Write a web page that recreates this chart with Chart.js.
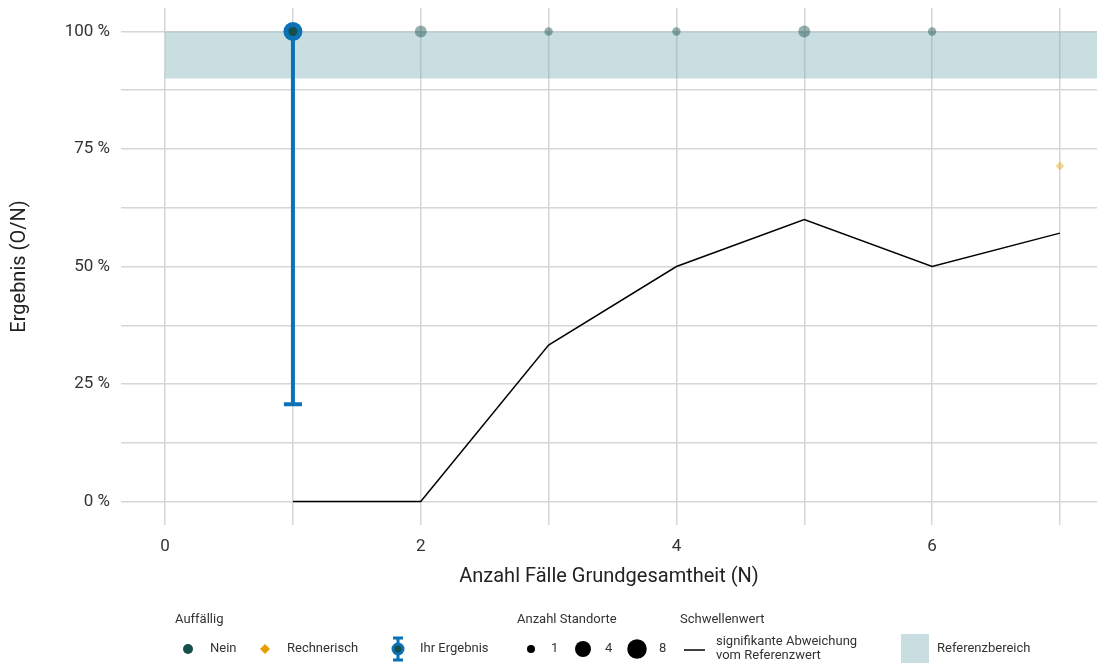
<!DOCTYPE html>
<html lang="de">
<head>
<meta charset="utf-8">
<title>Ergebnis nach Anzahl Fälle</title>
<script src="https://cdn.jsdelivr.net/npm/chart.js@4.4.1/dist/chart.umd.min.js"></script>
<style>
  html, body { margin: 0; padding: 0; background: #fff; }
  #wrap { width: 1098px; height: 664px; position: relative; }
</style>
</head>
<body>
<div id="wrap"><canvas id="chart" width="1098" height="664"></canvas></div>
<script>
// --- data ---
var nFaelle = [1, 2, 3, 4, 5, 6, 7];
var schwellenwert = [0, 0, 33.3, 50, 60, 50, 57.1];

// Standorte, Auffaellig = Nein
var neinX = [2, 3, 4, 5, 6];
var neinY = [100, 100, 100, 100, 100];
var neinStandorte = [2, 1, 1, 2, 1];

// Standorte, Auffaellig = Rechnerisch
var rechnerischX = [7];
var rechnerischY = [71.4];

// Ihr Ergebnis with confidence interval
var ihrX = [1];
var ihrY = [100];
var ihrLower = [20.7];
var ihrUpper = [100];

// Referenzbereich
var refLower = 90;
var refUpper = 100;

var xMin = -0.345, xMax = 7.29;
var yMin = -5, yMax = 105;
var xTicks = [0, 1, 2, 3, 4, 5, 6, 7];
var xLabelled = [0, 2, 4, 6];
var yTicks = [0, 12.5, 25, 37.5, 50, 62.5, 75, 87.5, 100];
var yLabelled = [0, 25, 50, 75, 100];

// --- styling ---
var FONT = 'Roboto, "Noto Sans", sans-serif';
var TEAL = '#16504b';
var TEAL_A = 'rgba(22,80,75,0.45)';
var ORANGE = '#e69f00';
var ORANGE_A = 'rgba(230,159,0,0.4)';
var BLUE = '#0b72b8';
var BAND = 'rgba(120,172,180,0.4)';
var BAND_SOLID = '#c9dee1';
var GRID = '#d6d6d6';

function siteRadius(n) { return 4.2 * Math.sqrt(n); }

function pts(xs, ys) {
  return xs.map(function (x, i) { return { x: x, y: ys[i] }; });
}

// error bar for "Ihr Ergebnis", drawn just before its point
var errorBarPlugin = {
  id: 'ihrErrorBar',
  beforeDatasetDraw: function (chart, args) {
    if (args.meta._dataset.label !== 'Ihr Ergebnis') return;
    var ctx = chart.ctx, xs = chart.scales.x, ys = chart.scales.y;
    ctx.save();
    ctx.strokeStyle = BLUE;
    ctx.lineWidth = 4;
    ihrX.forEach(function (x, i) {
      var px = xs.getPixelForValue(x);
      var lo = ys.getPixelForValue(ihrLower[i]);
      var hi = ys.getPixelForValue(ihrUpper[i]);
      ctx.beginPath();
      ctx.moveTo(px, hi);
      ctx.lineTo(px, lo);
      ctx.moveTo(px - 9, lo);
      ctx.lineTo(px + 9, lo);
      ctx.moveTo(px - 9, hi);
      ctx.lineTo(px + 9, hi);
      ctx.stroke();
    });
    ctx.restore();
  }
};

// legend below the plot, ggplot style
var legendPlugin = {
  id: 'qiLegend',
  afterDraw: function (chart) {
    var ctx = chart.ctx;
    var rowY = 649, titleY = 620;
    ctx.save();
    ctx.textBaseline = 'middle';
    ctx.textAlign = 'left';
    ctx.fillStyle = '#333';
    ctx.font = '13px ' + FONT;
    ctx.fillText('Auffällig', 175, titleY);
    ctx.fillText('Anzahl Standorte', 517, titleY);
    ctx.fillText('Schwellenwert', 680, titleY);

    // Nein
    ctx.fillStyle = TEAL;
    ctx.beginPath(); ctx.arc(188, rowY, 5, 0, Math.PI * 2); ctx.fill();
    // Rechnerisch
    ctx.fillStyle = ORANGE;
    ctx.beginPath();
    ctx.moveTo(265, rowY - 5); ctx.lineTo(270, rowY); ctx.lineTo(265, rowY + 5); ctx.lineTo(260, rowY);
    ctx.closePath(); ctx.fill();
    // Ihr Ergebnis
    ctx.strokeStyle = BLUE; ctx.lineWidth = 3;
    ctx.beginPath();
    ctx.moveTo(398, 638); ctx.lineTo(398, 660);
    ctx.moveTo(393, 638); ctx.lineTo(403, 638);
    ctx.moveTo(393, 660); ctx.lineTo(403, 660);
    ctx.stroke();
    ctx.fillStyle = BLUE;
    ctx.beginPath(); ctx.arc(398, rowY, 6.5, 0, Math.PI * 2); ctx.fill();
    ctx.fillStyle = TEAL;
    ctx.beginPath(); ctx.arc(398, rowY, 3.5, 0, Math.PI * 2); ctx.fill();

    // sizes
    ctx.fillStyle = '#000';
    [[531, 1], [583, 4], [637, 6]].forEach(function (s) {
      ctx.beginPath(); ctx.arc(s[0], rowY, siteRadius(s[1]) * 0.95, 0, Math.PI * 2); ctx.fill();
    });

    // threshold line
    ctx.strokeStyle = '#000'; ctx.lineWidth = 1.5;
    ctx.beginPath(); ctx.moveTo(684, rowY + 1); ctx.lineTo(705, rowY + 1); ctx.stroke();

    // reference band key
    ctx.fillStyle = BAND_SOLID;
    ctx.fillRect(901, 634, 28, 29);

    ctx.fillStyle = '#333';
    ctx.font = '13px ' + FONT;
    ctx.fillText('Nein', 210, rowY);
    ctx.fillText('Rechnerisch', 287, rowY);
    ctx.fillText('Ihr Ergebnis', 420, rowY);
    ctx.fillText('1', 551, rowY);
    ctx.fillText('4', 605, rowY);
    ctx.fillText('8', 659, rowY);
    ctx.fillText('signifikante Abweichung', 716, 642);
    ctx.fillText('vom Referenzwert', 716, 656);
    ctx.fillText('Referenzbereich', 937, rowY);
    ctx.restore();
  }
};

new Chart(document.getElementById('chart'), {
  type: 'scatter',
  data: {
    datasets: [
      {
        label: 'Ihr Ergebnis',
        data: pts(ihrX, ihrY),
        order: 0,
        pointRadius: 7,
        pointBorderWidth: 5,
        pointBackgroundColor: TEAL,
        pointBorderColor: BLUE,
        pointHoverRadius: 7
      },
      {
        label: 'Rechnerisch',
        data: pts(rechnerischX, rechnerischY),
        order: 1,
        pointStyle: 'rectRot',
        pointRadius: 4.5,
        pointBorderWidth: 0,
        pointBackgroundColor: ORANGE_A
      },
      {
        label: 'Nein',
        data: pts(neinX, neinY),
        order: 2,
        pointRadius: neinStandorte.map(siteRadius),
        pointBorderWidth: 0,
        pointBackgroundColor: TEAL_A
      },
      {
        label: 'Schwellenwert',
        type: 'line',
        data: pts(nFaelle, schwellenwert),
        order: 3,
        borderColor: '#000',
        borderWidth: 1.5,
        pointRadius: 0,
        tension: 0,
        fill: false
      },
      {
        label: 'Referenzbereich oben',
        type: 'line',
        data: [{ x: 0, y: refUpper }, { x: xMax, y: refUpper }],
        order: 4,
        borderWidth: 0,
        pointRadius: 0,
        backgroundColor: BAND,
        fill: '+1'
      },
      {
        label: 'Referenzbereich unten',
        type: 'line',
        data: [{ x: 0, y: refLower }, { x: xMax, y: refLower }],
        order: 5,
        borderWidth: 0,
        pointRadius: 0,
        fill: false
      }
    ]
  },
  options: {
    responsive: false,
    animation: false,
    layout: { autoPadding: false, padding: { top: 8, right: 1, bottom: 71, left: 0 } },
    plugins: {
      legend: { display: false },
      tooltip: { enabled: false }
    },
    scales: {
      x: {
        type: 'linear',
        min: xMin,
        max: xMax,
        afterBuildTicks: function (s) { s.ticks = xTicks.map(function (v) { return { value: v }; }); },
        afterFit: function (s) { s.height = 68; s.paddingLeft = 0; s.paddingRight = 0; },
        grid: { color: GRID, lineWidth: 1.5, drawTicks: false },
        border: { display: false },
        ticks: {
          padding: 12,
          color: '#333',
          font: { family: FONT, size: 17 },
          callback: function (v) { return xLabelled.indexOf(v) >= 0 ? String(v) : ''; }
        },
        title: {
          display: true,
          text: 'Anzahl Fälle Grundgesamtheit (N)',
          color: '#222',
          font: { family: FONT, size: 20 },
          padding: { top: 4, bottom: 4 }
        }
      },
      y: {
        type: 'linear',
        min: yMin,
        max: yMax,
        afterBuildTicks: function (s) { s.ticks = yTicks.map(function (v) { return { value: v }; }); },
        afterFit: function (s) { s.width = 121; s.paddingTop = 0; s.paddingBottom = 0; },
        grid: { color: GRID, lineWidth: 1.5, drawTicks: false },
        border: { display: false },
        ticks: {
          padding: 11,
          color: '#333',
          font: { family: FONT, size: 17 },
          callback: function (v) { return yLabelled.indexOf(v) >= 0 ? v + ' %' : ''; }
        },
        title: {
          display: true,
          text: 'Ergebnis (O/N)',
          color: '#222',
          font: { family: FONT, size: 20 },
          padding: { top: 8, bottom: 4 }
        }
      }
    }
  },
  plugins: [errorBarPlugin, legendPlugin]
});
</script>
</body>
</html>
